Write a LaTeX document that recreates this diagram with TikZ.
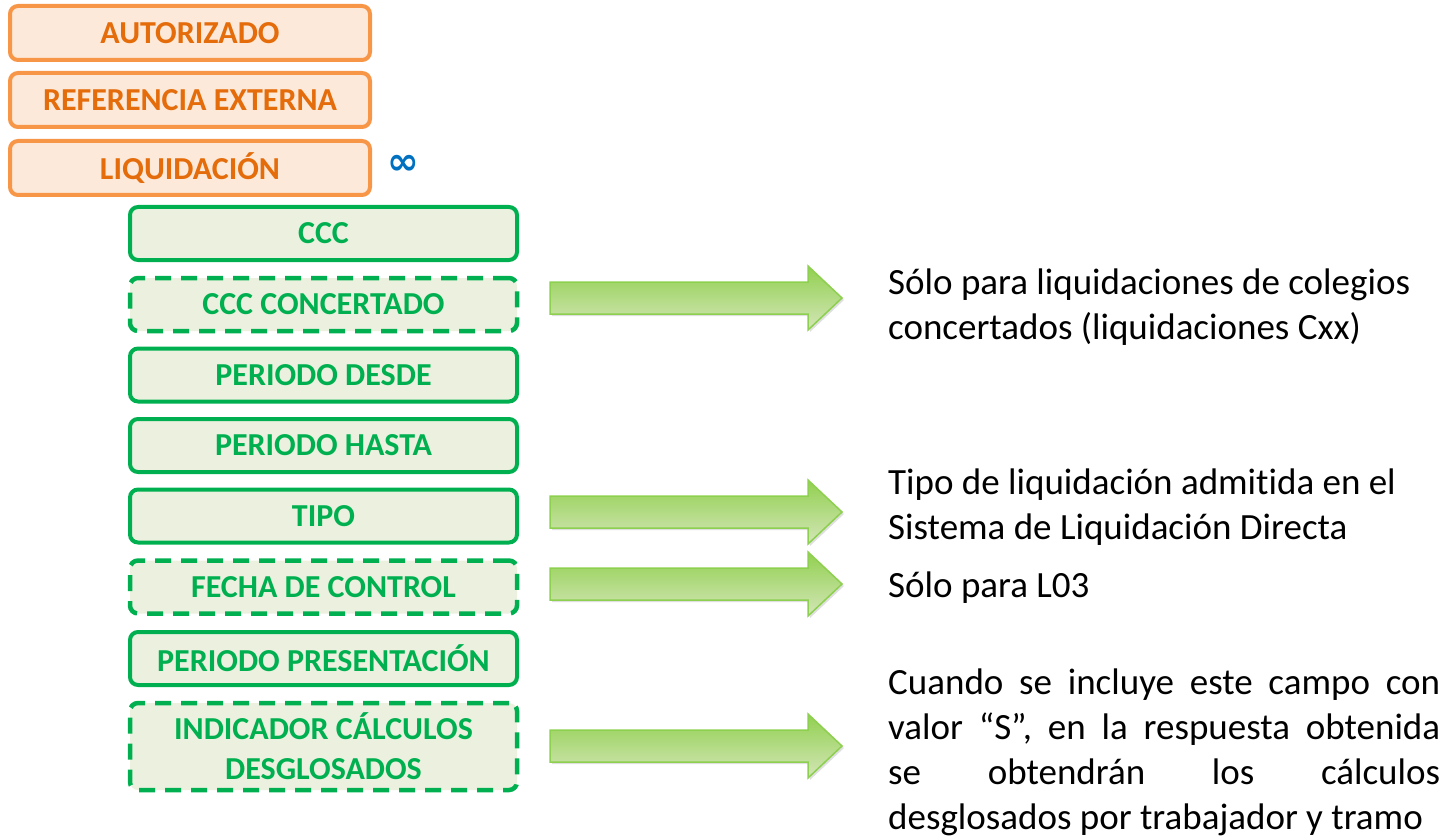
\documentclass[tikz,border=0pt]{standalone}
\usepackage{fontspec}
\setmainfont{Carlito}[Ligatures={NoCommon,NoContextual}, Contextuals=NoAlternate]
\newfontfamily\symfont{DejaVu Sans}
\usepackage{xcolor}
\usepackage{tikz}
\usetikzlibrary{positioning,shadows}
\definecolor{orgline}{HTML}{F79646}
\definecolor{orgfill}{HTML}{FDE9D9}
\definecolor{orgtext}{HTML}{E46C0A}
\definecolor{grnline}{HTML}{00B050}
\definecolor{grnfill}{HTML}{EBF1DE}
\definecolor{arrtop}{HTML}{92D050}
\definecolor{arrbot}{HTML}{D3E6B8}
\definecolor{arrline}{HTML}{8DCF4E}
\definecolor{infblue}{HTML}{0070C0}
\tikzset{
  % --- parent fields (orange) ---
  parentfield/.style={draw=orgline, line width=4pt, rounded corners=8pt,
                      fill=orgfill, text=orgtext, align=center,
                      font=\bfseries\fontsize{32}{36}\selectfont,
                      minimum width=360pt, minimum height=54pt, inner sep=0pt},
  % --- child fields (green): solid = mandatory, dashed = optional ---
  field/.style={draw=grnline, line width=4pt, rounded corners=8pt,
                fill=grnfill, text=grnline, align=center,
                font=\bfseries\fontsize{32}{36}\selectfont,
                minimum width=387pt, minimum height=53pt, inner sep=0pt},
  optfield/.style={field, line width=4.5pt, dash pattern=on 16pt off 10pt},
  % --- block arrows towards the notes ---
  notearrow/.style={line width=1.5pt, draw=arrline, top color=arrtop,
                    bottom color=arrbot,
                    drop shadow={opacity=0.25, shadow xshift=2pt, shadow yshift=-2pt}},
  note/.style={anchor=west, align=left, inner sep=0pt,
               font=\fontsize{37}{45}\selectfont},
  pics/blockarrow/.style={code={
      \path[notearrow] (0,-16) -- (258,-16) -- (258,-32) -- (292,0)
            -- (258,32) -- (258,16) -- (0,16) -- cycle;}},
}
\newcommand{\jline}[1]{\makebox[552pt][s]{#1}}

\begin{document}
\begin{tikzpicture}[x=1pt, y=-1pt]
  \useasboundingbox (0,0) rectangle (1445,837);

  % --- parent elements ---
  \node[parentfield] (autor) at (190,33)  {AUTORIZADO};
  \node[parentfield] (refext) at (190,100) {REFERENCIA EXTERNA};
  \node[parentfield] (liq)   at (190,168) {LIQUIDACIÓN};
  \node[text=infblue, font=\symfont\bfseries\fontsize{38}{38}\selectfont,
        inner sep=0pt] (inf) at (403,165) {∞};

  % --- fields of LIQUIDACION ---
  \node[field]    (ccc)   at (323.5,233.5) {CCC};
  \node[optfield] (cccc)  at (323.5,304.5) {CCC CONCERTADO};
  \node[field]    (desde) at (323.5,375)   {PERIODO DESDE};
  \node[field]    (hasta) at (323.5,445.5) {PERIODO HASTA};
  \node[field]    (tipo)  at (323.5,516)   {TIPO};
  \node[optfield] (fecha) at (323.5,587)   {FECHA DE CONTROL};
  \node[field]    (pres)  at (323.5,658.5) {PERIODO PRESENTACIÓN};
  \node[optfield, minimum height=87pt, font=\bfseries\fontsize{32}{40}\selectfont]
        (indic) at (323.5,746.5) {INDICADOR CÁLCULOS\\DESGLOSADOS};

  % --- arrows ---
  \foreach \y in {298,512,584,746}
      \pic at (550,\y) {blockarrow};

  % --- notes ---
  \node[note] (n1) at (888,307) {Sólo para liquidaciones de colegios\\concertados (liquidaciones Cxx)};
  \node[note] (n2) at (888,507) {Tipo de liquidación admitida en el\\Sistema de Liquidación Directa};
  \node[note] (n3) at (888,588) {Sólo para L03};
  \node[note] (n4) at (888,752)
        {\jline{Cuando se incluye este campo con}\\
         \jline{valor “S”, en la respuesta obtenida}\\
         \jline{se obtendrán los cálculos}\\
         desglosados por trabajador y tramo};
\end{tikzpicture}
\end{document}
